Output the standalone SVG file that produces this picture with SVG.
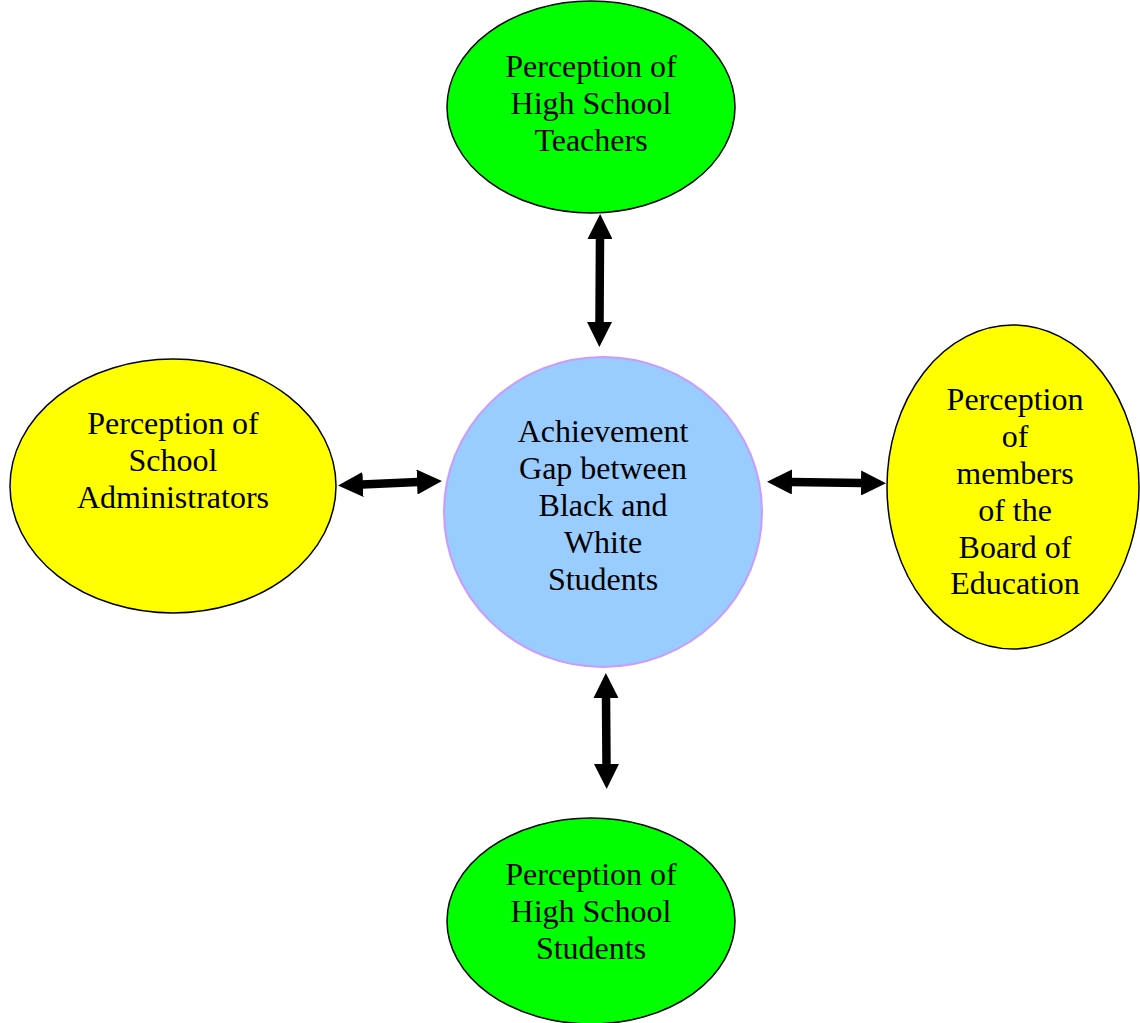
<svg xmlns="http://www.w3.org/2000/svg" width="1140" height="1023" viewBox="0 0 1140 1023">
<style>
.node{stroke:#000;stroke-width:1.5}
.green{fill:#00FF00}
.yellow{fill:#FFFF00}
.center{fill:#99CCFF;stroke:#CC99FF;stroke-width:2}
text{font-family:"Liberation Serif","Times New Roman",serif;font-size:32px;fill:#000;text-anchor:middle}
.conn{stroke:#000;stroke-width:8.5;fill:none;marker-start:url(#head);marker-end:url(#head)}
</style>
<defs>
<marker id="head" viewBox="0 -12.5 25 25" refX="1" refY="0" markerWidth="25" markerHeight="25" markerUnits="userSpaceOnUse" orient="auto-start-reverse">
<path d="M0,-12.5 L25,0 L0,12.5 z" fill="#000"/>
</marker>
</defs>
<rect width="1140" height="1023" fill="#fff"/>
<g id="connectors">
<line class="conn" x1="600" y1="238" x2="599.5" y2="323"/>
<line class="conn" x1="362" y1="484.5" x2="418" y2="482"/>
<line class="conn" x1="791" y1="482" x2="862" y2="483"/>
<line class="conn" x1="606" y1="697" x2="606.5" y2="765"/>
</g>
<g id="teachers">
<ellipse class="node green" cx="591" cy="107" rx="144" ry="106"/>
<text x="591" y="77">Perception of</text>
<text x="591" y="114">High School</text>
<text x="591" y="151">Teachers</text>
</g>
<g id="administrators">
<ellipse class="node yellow" cx="173" cy="486" rx="163" ry="127"/>
<text x="173" y="434">Perception of</text>
<text x="173" y="471">School</text>
<text x="173" y="508">Administrators</text>
</g>
<g id="gap">
<ellipse class="center" cx="603" cy="512" rx="159" ry="155"/>
<text x="603" y="442">Achievement</text>
<text x="603" y="479">Gap between</text>
<text x="603" y="516">Black and</text>
<text x="603" y="553">White</text>
<text x="603" y="590">Students</text>
</g>
<g id="board">
<ellipse class="node yellow" cx="1013" cy="487" rx="126" ry="162"/>
<text x="1015" y="410">Perception</text>
<text x="1015" y="447">of</text>
<text x="1015" y="484">members</text>
<text x="1015" y="521">of the</text>
<text x="1015" y="558">Board of</text>
<text x="1015" y="594">Education</text>
</g>
<g id="students">
<ellipse class="node green" cx="591" cy="921" rx="144" ry="103"/>
<text x="591" y="885">Perception of</text>
<text x="591" y="922">High School</text>
<text x="591" y="959">Students</text>
</g>
</svg>
